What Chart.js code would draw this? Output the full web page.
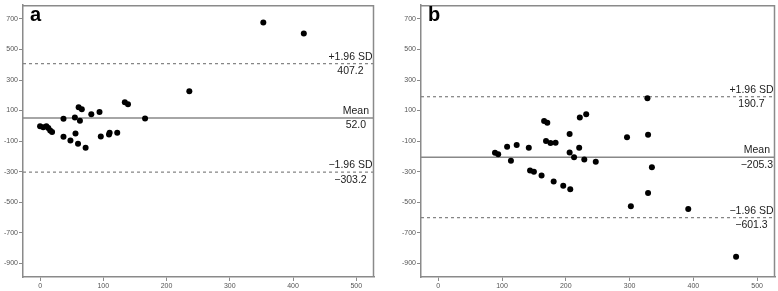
<!DOCTYPE html>
<html>
<head>
<meta charset="utf-8">
<script src="https://cdn.jsdelivr.net/npm/chart.js@4"></script>
<style>
  html, body { margin: 0; padding: 0; background: #fff; }
  #wrap { position: relative; width: 778px; height: 291px; overflow: hidden; }
  #ca { position: absolute; left: 0; top: 0; }
  #cb { position: absolute; left: 388px; top: 0; }
</style>
</head>
<body>
<div id="wrap">
  <canvas id="ca" width="388" height="291"></canvas>
  <canvas id="cb" width="390" height="291"></canvas>
</div>
<script>
// ---- Data ----
// Panel a: mean of the two methods (x) vs difference (y)
const aAvg  = [0, 5, 10, 13, 16, 19, 37, 37, 48, 55, 56, 60, 61, 66, 63, 72, 81, 94, 96, 109, 110, 122, 134, 139, 166, 236, 353, 417];
const aDiff = [-3, -10, -2, -15, -30, -40, 46, -72, -96, 55, -51, -117, 121, 108, 33, -143, 76, 91, -70, -57, -46, -46, 154, 141, 48, 226, 676, 605];
// Panel b
const bAvg  = [89, 94, 108, 114, 123, 142, 144, 150, 162, 166, 171, 169, 176, 184, 181, 196, 206, 206, 207, 213, 221, 222, 232, 229, 247, 296, 302, 328, 329, 329, 335, 392, 467];
const bDiff = [-177, -186, -137, -229, -126, -143, -292, -300, -326, 31, 20, -100, -113, -111, -365, -393, -53, -174, -416, -206, -143, 55, 76, -221, -236, -74, -526, 181, -59, -440, -272, -545, -857];
// Limits of agreement: [+1.96 SD, Mean, -1.96 SD]
const aLimits = [407.2, 52.0, -303.2];
const bLimits = [190.7, -205.3, -601.3];
const limitNames = ['+1.96 SD', 'Mean', '\u22121.96 SD'];
const limitText = v => (v < 0 ? '\u2212' + Math.abs(v).toFixed(1) : v.toFixed(1));
// Axis ticks
const xTicks = [0, 100, 200, 300, 400, 500];
const yTicks = [700, 500, 300, 100, -100, -300, -500, -700, -900];
const yTickLabels = ['700', '500', '300', '100', '-100', '-300', '-500', '-700', '-900'];
const xRange = [-27, 528];
const yRange = [-990, 790];

const GRAY = '#8a8a8a';

function makeChart(id, panel, avg, diff, limits, yWidth, padRight) {
  const pts = avg.map((x, i) => ({ x: x, y: diff[i] }));
  const lineDs = limits.map((v, i) => ({
    type: 'line',
    data: [{ x: xRange[0], y: v }, { x: xRange[1], y: v }],
    borderColor: i === 1 ? '#888' : '#808080',
    borderWidth: i === 1 ? 1.5 : 1.2,
    borderDash: i === 1 ? [] : [3, 3],
    pointRadius: 0,
    showLine: true,
    order: 2
  }));
  const annot = {
    id: 'annot' + panel,
    afterDatasetsDraw(chart) {
      const ctx = chart.ctx;
      const a = chart.chartArea;
      const ys = chart.scales.y;
      ctx.save();
      // top & right frame
      ctx.strokeStyle = GRAY;
      ctx.lineWidth = 1.5;
      ctx.beginPath();
      ctx.moveTo(a.left, a.top + 0.5);
      ctx.lineTo(a.right - 0.5, a.top + 0.5);
      ctx.lineTo(a.right - 0.5, a.bottom);
      ctx.stroke();
      // panel letter
      ctx.fillStyle = '#000';
      ctx.font = 'bold 20px "Liberation Sans", Arial, sans-serif';
      ctx.textAlign = 'left';
      ctx.textBaseline = 'alphabetic';
      ctx.fillText(panel, a.left + 7, 21);
      // limit labels
      ctx.font = '10.5px "Liberation Sans", Arial, sans-serif';
      ctx.fillStyle = '#222';
      ctx.textBaseline = 'middle';
      limits.forEach((v, i) => {
        const py = ys.getPixelForValue(v);
        const top = limitNames[i];
        const bot = limitText(v);
        const rightEdge = i === 1 ? a.right - 5 : a.right - 1.5;
        const w = ctx.measureText(top).width;
        const cx = rightEdge - w / 2;
        ctx.textAlign = 'center';
        ctx.fillText(top, cx, py - 7);
        ctx.fillText(bot, cx, py + 7.5);
      });
      ctx.restore();
    }
  };
  return new Chart(document.getElementById(id), {
    type: 'scatter',
    data: {
      datasets: [{
        data: pts,
        backgroundColor: '#000',
        borderWidth: 0,
        pointRadius: 3,
        pointHoverRadius: 3,
        order: 1
      }].concat(lineDs)
    },
    options: {
      responsive: false,
      animation: false,
      events: [],
      layout: { padding: { top: 2, right: padRight, left: 0, bottom: 0 } },
      plugins: { legend: { display: false }, tooltip: { enabled: false } },
      scales: {
        x: {
          type: 'linear',
          min: xRange[0], max: xRange[1],
          afterBuildTicks: s => { s.ticks = xTicks.map(v => ({ value: v })); },
          afterFit: s => { s.height = 14; },
          grid: { drawOnChartArea: false, drawTicks: true, tickLength: 4, color: GRAY, lineWidth: 1 },
          border: { display: true, color: GRAY, width: 1.5 },
          ticks: { color: '#555', font: { size: 7, family: '"Liberation Sans", Arial, sans-serif' }, padding: 1, maxRotation: 0, autoSkip: false }
        },
        y: {
          type: 'linear',
          min: yRange[0], max: yRange[1],
          afterBuildTicks: s => { s.ticks = yTicks.map(v => ({ value: v })); },
          afterFit: s => { s.width = yWidth; },
          grid: { drawOnChartArea: false, drawTicks: true, tickLength: 4, color: GRAY, lineWidth: 1 },
          border: { display: true, color: GRAY, width: 1.5 },
          ticks: {
            color: '#555', font: { size: 7, family: '"Liberation Sans", Arial, sans-serif' }, padding: 1, autoSkip: false,
            callback: (v) => { const k = yTicks.indexOf(v); return k >= 0 ? yTickLabels[k] : ''; }
          }
        }
      }
    },
    plugins: [annot]
  });
}

makeChart('ca', 'a', aAvg, aDiff, aLimits, 23, 14);
makeChart('cb', 'b', bAvg, bDiff, bLimits, 33, 2);
</script>
</body>
</html>
